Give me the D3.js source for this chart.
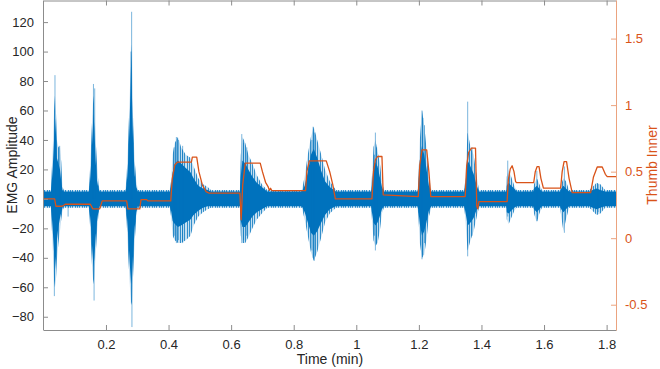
<!DOCTYPE html>
<html>
<head>
<meta charset="utf-8">
<script src="https://cdn.jsdelivr.net/npm/d3@7"></script>
<style>
  body { margin: 0; background: #fff; }
  text { font-family: "Liberation Sans", Arial, Helvetica, sans-serif; }
</style>
</head>
<body>
<div id="chart"></div>
<script>
var w = 660;
var h = 369;

// EMG envelope: time (min), outer hi, core hi, core lo, outer lo
var emgT     = [0.000,0.024,0.026,0.030,0.034,0.037,0.040,0.043,0.048,0.053,0.057,0.061,0.065,0.145,
                0.148,0.152,0.156,0.160,0.163,0.167,0.171,0.176,0.180,0.262,
                0.266,0.271,0.276,0.280,0.283,0.287,0.292,0.297,0.302,0.404,
                0.408,0.413,0.420,0.430,0.440,0.455,0.470,0.480,0.495,0.510,0.525,0.535,0.628,
                0.631,0.636,0.645,0.655,0.668,0.682,0.698,0.715,0.826,
                0.835,0.845,0.855,0.864,0.875,0.888,0.900,0.915,0.935,1.048,
                1.050,1.055,1.061,1.068,1.075,1.082,1.088,1.195,
                1.198,1.203,1.210,1.217,1.224,1.232,1.240,1.345,
                1.348,1.352,1.356,1.365,1.375,1.385,1.392,1.480,
                1.481,1.487,1.495,1.505,1.512,1.565,
                1.568,1.577,1.585,1.593,1.652,
                1.655,1.662,1.670,1.680,1.745,
                1.755,1.768,1.780,1.795,1.830];
var emgOutHi = [6,6,15,35,60,70,60,40,35,35,25,8,6,6,
                15,35,55,70,60,40,25,10,6,6,
                15,40,70,105,90,50,25,12,6,6,
                12,30,38,42,35,30,28,22,14,10,8,6,6,
                30,42,38,30,24,16,10,6,6,
                15,30,42,49,40,30,20,12,6,6,
                15,35,40,32,25,12,6,6,
                10,40,60,50,35,15,6,6,
                12,30,45,35,30,15,6,6,
                15,20,15,9,6,6,
                10,14,10,6,6,
                10,14,12,6,6,
                8,11,10,6,6];
var emgCoreHi = [5,5,9,22,40,55,45,28,24,20,12,6,5,5,
                 9,22,40,58,48,26,13,7,5,5,
                 9,26,55,90,70,36,16,8,5,5,
                 8,18,24,26,24,21,18,14,9,7,6,5,5,
                 16,26,24,20,15,11,8,5,5,
                 9,18,30,34,28,19,12,8,5,5,
                 9,22,25,22,15,8,5,5,
                 7,26,36,30,21,9,5,5,
                 8,18,26,22,17,9,5,5,
                 9,11,9,7,5,5,
                 7,9,7,5,5,
                 7,9,7,5,5,
                 6,7,6,5,5];
var emgCoreLo = [-5,-5,-9,-22,-36,-48,-40,-28,-19,-13,-9,-6,-5,-5,
                 -9,-19,-34,-46,-40,-26,-16,-8,-5,-5,
                 -9,-25,-44,-58,-54,-36,-19,-9,-5,-5,
                 -8,-15,-17,-19,-18,-16,-14,-11,-8,-6,-5,-5,-5,
                 -15,-19,-19,-16,-12,-9,-7,-5,-5,
                 -9,-16,-23,-25,-22,-16,-11,-7,-5,-5,
                 -9,-16,-18,-16,-12,-7,-5,-5,
                 -7,-17,-25,-22,-16,-8,-5,-5,
                 -8,-13,-18,-16,-13,-7,-5,-5,
                 -9,-10,-8,-6,-5,-5,
                 -7,-9,-7,-5,-5,
                 -7,-9,-7,-5,-5,
                 -6,-7,-6,-5,-5];
var emgOutLo = [-6,-6,-15,-35,-55,-60,-55,-42,-30,-22,-14,-8,-6,-6,
                -14,-30,-48,-58,-52,-38,-24,-10,-6,-6,
                -15,-38,-58,-72,-70,-50,-28,-12,-6,-6,
                -12,-25,-28,-30,-30,-28,-25,-18,-12,-9,-7,-6,-6,
                -25,-30,-30,-26,-20,-14,-10,-6,-6,
                -14,-25,-36,-42,-36,-26,-16,-10,-6,-6,
                -14,-28,-32,-30,-22,-10,-6,-6,
                -10,-30,-40,-38,-28,-12,-6,-6,
                -12,-25,-35,-28,-22,-12,-6,-6,
                -14,-17,-13,-8,-6,-6,
                -10,-16,-10,-6,-6,
                -12,-22,-14,-6,-6,
                -8,-11,-10,-6,-6];

// single tall spikes: time, top, bottom
var spikeT  = [0.037,0.035,0.052,0.079,0.160,0.162,0.164,0.282,0.283,0.280,
               0.418,0.425,0.432,0.445,0.634,0.640,0.650,0.858,0.862,0.866,
               1.058,1.061,1.065,1.210,1.213,1.218,1.356,1.370,1.484,1.577,1.665,1.773];
var spikeHi = [84,10,36,2,78,0,75,127,0,100,
               35,42,40,36,44,38,35,40,49,45,
               30,45,35,60,55,50,66,35,26,19,22,10];
var spikeLo = [-20,-66,-5,-12,0,-69,0,0,-87,-20,
               -25,-30,-28,-30,-30,-28,-25,-35,-40,-42,
               -25,-35,-30,-41,-38,-30,-39,-25,-12,-15,-23,-9];

// Thumb Inner (right axis)
var thumbT = [0.000,0.036,0.040,0.060,0.070,0.150,0.158,0.180,0.188,0.266,0.270,0.308,0.312,0.330,0.334,
              0.407,0.412,0.420,0.428,0.473,0.476,0.490,0.497,0.508,0.520,0.530,0.628,0.632,0.637,0.645,
              0.693,0.700,0.710,0.718,0.722,0.726,0.730,0.838,0.842,0.850,0.904,0.915,0.925,0.933,
              1.050,1.055,1.061,1.068,1.082,1.086,1.198,1.203,1.210,1.225,1.232,1.238,
              1.348,1.353,1.359,1.368,1.381,1.385,1.388,1.392,1.482,1.486,1.492,1.498,1.504,1.509,1.512,
              1.567,1.572,1.578,1.584,1.590,1.598,1.653,1.658,1.664,1.672,1.680,1.690,
              1.749,1.758,1.770,1.786,1.796,1.802,1.830];
var thumbV = [0.295,0.295,0.24,0.24,0.255,0.255,0.22,0.22,0.28,0.28,0.22,0.22,0.29,0.29,0.28,
              0.28,0.45,0.55,0.571,0.571,0.609,0.609,0.50,0.40,0.35,0.338,0.338,0.138,0.40,0.564,
              0.564,0.50,0.42,0.388,0.36,0.375,0.358,0.358,0.50,0.581,0.581,0.50,0.40,0.295,
              0.295,0.50,0.589,0.614,0.614,0.326,0.313,0.55,0.664,0.664,0.50,0.313,
              0.313,0.55,0.644,0.677,0.677,0.243,0.22,0.275,0.275,0.44,0.52,0.544,0.50,0.426,0.418,
              0.418,0.50,0.538,0.538,0.45,0.376,0.376,0.50,0.576,0.576,0.45,0.343,
              0.343,0.46,0.535,0.535,0.48,0.463,0.463];

var xTicks = [0.2, 0.4, 0.6, 0.8, 1, 1.2, 1.4, 1.6, 1.8];
var yLeftTicks = [-80, -60, -40, -20, 0, 20, 40, 60, 80, 100, 120];
var yRightTicks = [-0.5, 0, 0.5, 1, 1.5];

var blue = "#0072bd";
var orange = "#d95319";

var svg = d3.select("#chart").append("svg")
  .attr("width", w)
  .attr("height", h);

svg.append("rect").attr("width", w).attr("height", h).attr("fill", "#fff");

// vertical hatching so the sparse part of the signal reads as thin traces
var pat = svg.append("defs").append("pattern")
  .attr("id", "trace")
  .attr("patternUnits", "userSpaceOnUse")
  .attr("width", 7)
  .attr("height", 4);
[0.5, 2.5, 5.5].forEach(function (px) {
  pat.append("rect")
    .attr("x", px - 0.5)
    .attr("y", 0)
    .attr("width", 1)
    .attr("height", 4)
    .attr("fill", blue)
    .attr("fill-opacity", 0.75);
});

const xScale = d3.scaleLinear().domain([0, 1.83]).range([43.4, 616]);
const yLeft = d3.scaleLinear().domain([-89, 135]).range([330, 0]);
const yRight = d3.scaleLinear().domain([-0.69, 1.79]).range([330, 0]);

var emg = emgT.map(function (t, i) {
  return { t: t, oh: emgOutHi[i], ch: emgCoreHi[i], cl: emgCoreLo[i], ol: emgOutLo[i] };
});

var plot = svg.append("g");

// outer envelope, faint
plot.append("path")
  .datum(emg)
  .attr("fill", blue)
  .attr("fill-opacity", 0.22)
  .attr("d", d3.area()
    .x(function (d) { return xScale(d.t); })
    .y0(function (d) { return yLeft(d.ol); })
    .y1(function (d) { return yLeft(d.oh); }));

// outer envelope, traces
plot.append("path")
  .datum(emg)
  .attr("fill", "url(#trace)")
  .attr("d", d3.area()
    .x(function (d) { return xScale(d.t); })
    .y0(function (d) { return yLeft(d.ol); })
    .y1(function (d) { return yLeft(d.oh); }));

// dense core
plot.append("path")
  .datum(emg)
  .attr("fill", blue)
  .attr("d", d3.area()
    .x(function (d) { return xScale(d.t); })
    .y0(function (d) { return yLeft(d.cl); })
    .y1(function (d) { return yLeft(d.ch); }));

// spikes
plot.selectAll("line.spike")
  .data(spikeT)
  .enter()
  .append("line")
  .attr("class", "spike")
  .attr("x1", function (d) { return xScale(d); })
  .attr("x2", function (d) { return xScale(d); })
  .attr("y1", function (d, i) { return yLeft(spikeHi[i]); })
  .attr("y2", function (d, i) { return yLeft(spikeLo[i]); })
  .attr("stroke", blue)
  .attr("stroke-opacity", 0.65)
  .attr("stroke-width", 0.8);

// Thumb Inner line
plot.append("path")
  .datum(thumbT)
  .attr("fill", "none")
  .attr("stroke", orange)
  .attr("stroke-width", 1.3)
  .attr("stroke-linejoin", "round")
  .attr("d", d3.line()
    .x(function (d) { return xScale(d); })
    .y(function (d, i) { return yRight(thumbV[i]); }));

// Axes
var axisGray = "#8c8c8c";
var textGray = "#262626";

// bottom
var xAxis = svg.append("g")
  .attr("transform", "translate(0,330)")
  .call(d3.axisBottom(xScale).tickValues(xTicks).tickSizeInner(-5).tickSizeOuter(0).tickPadding(10)
    .tickFormat(function (d) { return String(d); }));
xAxis.select(".domain").attr("stroke", axisGray);
xAxis.selectAll(".tick line").attr("stroke", axisGray);
xAxis.selectAll("text").attr("fill", textGray).attr("font-size", 13);

// top border with ticks
var xTop = svg.append("g")
  .attr("transform", "translate(0,0.5)")
  .call(d3.axisTop(xScale).tickValues(xTicks).tickSizeInner(-5).tickSizeOuter(0).tickFormat(""));
xTop.select(".domain").attr("stroke", axisGray);
xTop.selectAll(".tick line").attr("stroke", axisGray);

// left
var yAxisL = svg.append("g")
  .attr("transform", "translate(43,0)")
  .call(d3.axisLeft(yLeft).tickValues(yLeftTicks).tickSizeInner(-5).tickSizeOuter(0).tickPadding(9));
yAxisL.select(".domain").attr("stroke", axisGray);
yAxisL.selectAll(".tick line").attr("stroke", axisGray);
yAxisL.selectAll("text").attr("fill", textGray).attr("font-size", 13);

// right
var yAxisR = svg.append("g")
  .attr("transform", "translate(616,0)")
  .call(d3.axisRight(yRight).tickValues(yRightTicks).tickSizeInner(-5).tickSizeOuter(0).tickPadding(9)
    .tickFormat(function (d) { return String(d); }));
yAxisR.select(".domain").attr("stroke", "#eba37f");
yAxisR.selectAll(".tick line").attr("stroke", "#eba37f");
yAxisR.selectAll("text").attr("fill", orange).attr("font-size", 13);

// Titles
svg.append("text")
  .attr("x", 330)
  .attr("y", 364)
  .attr("text-anchor", "middle")
  .attr("font-size", 14)
  .attr("fill", textGray)
  .text("Time (min)");

svg.append("text")
  .attr("transform", "translate(17,165) rotate(-90)")
  .attr("text-anchor", "middle")
  .attr("font-size", 14)
  .attr("fill", textGray)
  .text("EMG Amplitude");

svg.append("text")
  .attr("transform", "translate(657,165) rotate(-90)")
  .attr("text-anchor", "middle")
  .attr("font-size", 14)
  .attr("fill", orange)
  .text("Thumb Inner");
</script>
</body>
</html>
